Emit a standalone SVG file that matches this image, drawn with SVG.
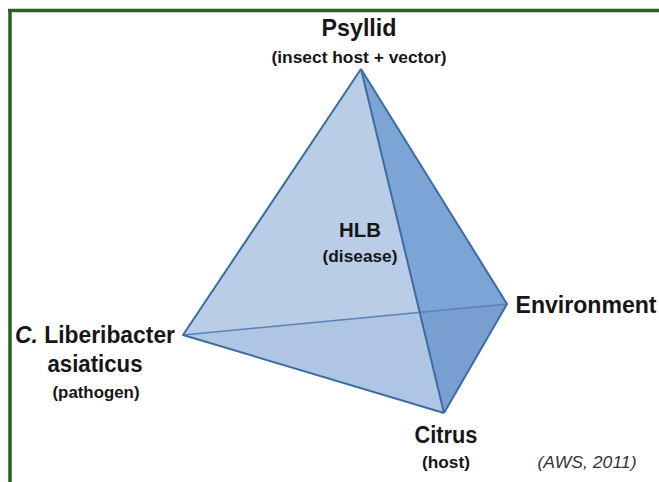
<svg xmlns="http://www.w3.org/2000/svg" width="659" height="482" viewBox="0 0 659 482">
<style>
text{font-family:"Liberation Sans",Arial,sans-serif;fill:#161616;text-anchor:middle}
.b{font-weight:bold}
.t{font-size:23px}
.s{font-size:16px}
.edge{stroke:#3d6ca3;stroke-width:2;fill:none;stroke-linejoin:round}
.hid{stroke:#5b82b4;stroke-width:1.5;fill:none}
.frame{stroke:#2e5b27;stroke-width:3.5;fill:none}
</style>
<rect width="659" height="482" fill="#ffffff"/>
<g id="frame">
<line class="frame" x1="8" y1="10.5" x2="659" y2="10.5"/>
<line class="frame" x1="10" y1="9" x2="10" y2="482"/>
</g>
<g id="tetrahedron">
<polygon points="361,69 183,335 444,413" fill="#bacde7"/>
<polygon points="183,335 507,304 420,312 444,413" fill="#aec5e3"/>
<polygon points="361,69 507,304 444,413" fill="#7ca4d4"/>
<polygon points="420,312 507,304 444,413" fill="#789fd0"/>
</g>
<g id="connectors">
<line class="hid" x1="183" y1="335" x2="507" y2="304"/>
<polyline class="edge" points="361,69 183,335 444,413"/>
<line class="edge" x1="361" y1="69" x2="444" y2="413"/>
<polyline class="edge" points="361,69 507,304 444,413"/>
</g>
<g id="psyllid">
<text class="b" x="359" y="36" font-size="24" textLength="75" lengthAdjust="spacingAndGlyphs">Psyllid</text>
<text class="b s" x="359" y="63" textLength="175" lengthAdjust="spacingAndGlyphs">(insect host + vector)</text>
</g>
<g id="hlb">
<text class="b" x="360" y="237" font-size="21" textLength="42" lengthAdjust="spacingAndGlyphs">HLB</text>
<text class="b" x="360" y="262" font-size="17" textLength="75" lengthAdjust="spacingAndGlyphs">(disease)</text>
</g>
<g id="environment">
<text class="b t" x="586" y="313" textLength="141" lengthAdjust="spacingAndGlyphs">Environment</text>
</g>
<g id="liberibacter">
<text class="b t" x="95" y="343" textLength="160" lengthAdjust="spacingAndGlyphs"><tspan font-style="italic">C.</tspan> Liberibacter</text>
<text class="b t" x="95" y="372" textLength="95" lengthAdjust="spacingAndGlyphs">asiaticus</text>
<text class="b s" x="96" y="398" textLength="87" lengthAdjust="spacingAndGlyphs">(pathogen)</text>
</g>
<g id="citrus">
<text class="b t" x="446" y="443" textLength="63" lengthAdjust="spacingAndGlyphs">Citrus</text>
<text class="b s" x="446" y="468" textLength="48" lengthAdjust="spacingAndGlyphs">(host)</text>
</g>
<g id="citation">
<text x="587" y="468" font-size="16" font-style="italic" fill="#333333" style="fill:#333333" textLength="99" lengthAdjust="spacingAndGlyphs">(AWS, 2011)</text>
</g>
</svg>
